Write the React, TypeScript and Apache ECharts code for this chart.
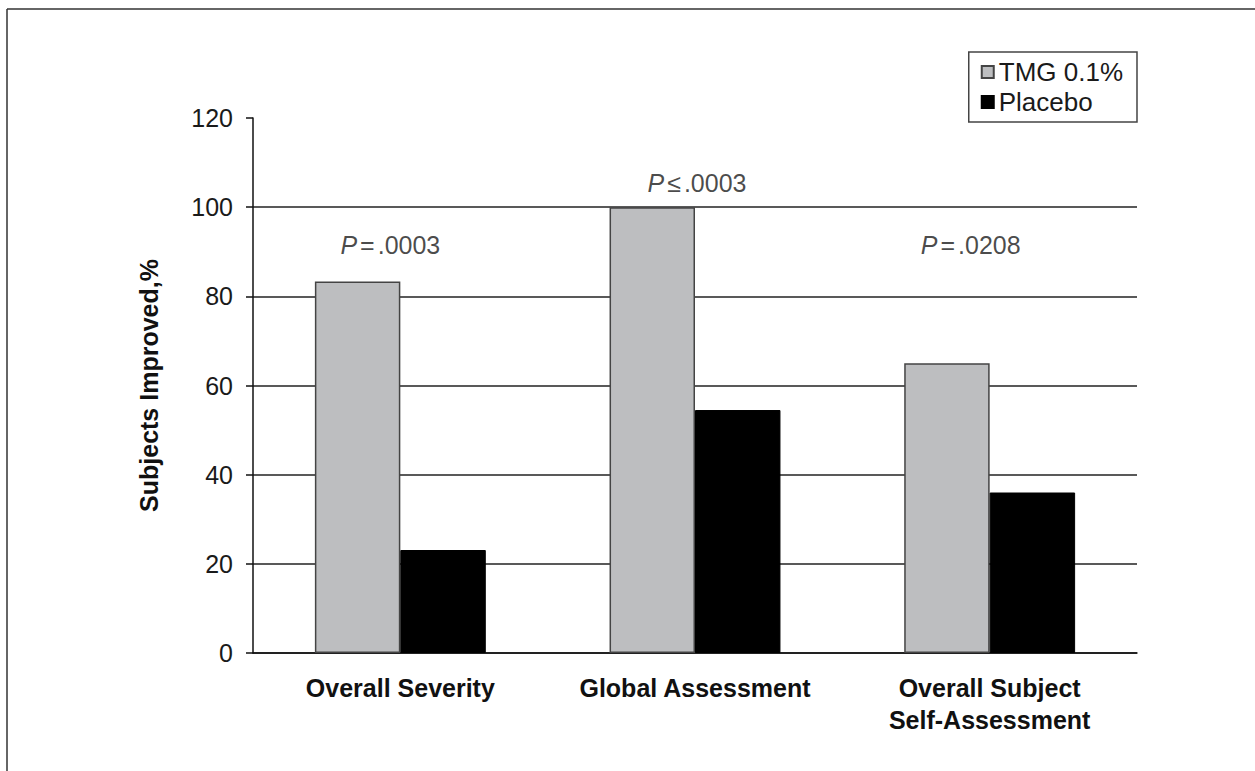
import React, { useEffect, useRef } from "react";
import * as echarts from "echarts";

const categories = ["Overall Severity", "Global Assessment", "Overall Subject\nSelf-Assessment"];
const tmgValues = [83.3, 100, 65];
const placeboValues = [23.1, 54.5, 36];
const seriesNames = ["TMG 0.1%", "Placebo"];
const pOperators = ["=", "≤", "="];
const pValues = [".0003", ".0003", ".0208"];
const pLabelLevels = [91.5, 105.5, 91.5];
const yMin = 0;
const yMax = 120;
const yInterval = 20;

const FONT = "'Liberation Sans', Arial, Helvetica, sans-serif";

export default function App() {
  const ref = useRef<HTMLDivElement>(null);
  useEffect(() => {
    if (!ref.current) return;
    const chart = echarts.init(ref.current, undefined, { renderer: "svg" });
    const labelOffsets = [[-10, 0], [2, 0], [-19, 0]];
    chart.setOption({
      animation: false,
      backgroundColor: "#ffffff",
      textStyle: { fontFamily: FONT },
      grid: { left: 253, right: 118, top: 118, bottom: 118, containLabel: false },
      legend: {
        data: seriesNames,
        orient: "vertical",
        right: 118,
        top: 52,
        padding: [7, 14, 7, 12],
        itemGap: 4,
        itemWidth: 12,
        itemHeight: 12,
        borderColor: "#444",
        borderWidth: 1.5,
        icon: "rect",
        textStyle: { fontSize: 26, color: "#1a1a1a", fontFamily: FONT },
      },
      xAxis: {
        type: "category",
        data: categories,
        axisLine: { show: true, lineStyle: { color: "#111", width: 1.5 } },
        axisTick: { show: false },
        axisLabel: {
          fontSize: 25,
          fontWeight: "bold",
          color: "#111",
          fontFamily: FONT,
          margin: 19,
          lineHeight: 32,
          interval: 0,
        },
      },
      yAxis: {
        type: "value",
        min: yMin,
        max: yMax,
        interval: yInterval,
        name: "Subjects Improved,%",
        nameLocation: "middle",
        nameGap: 92,
        nameTextStyle: { fontSize: 25, fontWeight: "bold", color: "#111", fontFamily: FONT },
        axisLine: { show: true, lineStyle: { color: "#111", width: 1.5 } },
        axisTick: { show: true, length: 7, lineStyle: { color: "#111", width: 1.5 } },
        axisLabel: { fontSize: 25, color: "#1a1a1a", margin: 20, fontFamily: FONT },
        splitLine: {
          show: true,
          lineStyle: {
            color: ["#222", "#222", "#222", "#222", "#222", "#222", "rgba(0,0,0,0)"],
            width: 1.5,
          },
        },
      },
      series: [
        {
          name: seriesNames[0],
          type: "bar",
          data: tmgValues,
          barWidth: "29%",
          barGap: "0%",
          itemStyle: { color: "#bdbec0", borderColor: "#444", borderWidth: 1.5 },
        },
        {
          name: seriesNames[1],
          type: "bar",
          data: placeboValues,
          barWidth: "29%",
          barGap: "0%",
          itemStyle: { color: "#000000", borderColor: "#000", borderWidth: 1 },
        },
        {
          name: "pvalues",
          type: "scatter",
          symbolSize: 0,
          silent: true,
          data: pLabelLevels.map((v, i) => ({
            value: [i, v],
            label: { offset: labelOffsets[i] },
          })),
          label: {
            show: true,
            position: "inside",
            formatter: (p: any) => `{i|P}{o|${pOperators[p.dataIndex]}}{n|${pValues[p.dataIndex]}}`,
            rich: {
              i: { fontSize: 25, fontStyle: "italic", color: "#1a1a1a", fontFamily: FONT },
              o: { fontSize: 25, color: "#1a1a1a", fontFamily: FONT, padding: [0, 3, 0, 3] },
              n: { fontSize: 25, color: "#1a1a1a", fontFamily: FONT },
            },
          },
        },
      ],
      graphic: [
        { type: "line", shape: { x1: 7, y1: 9, x2: 1255, y2: 9 }, style: { stroke: "#333", lineWidth: 1.5 } },
        { type: "line", shape: { x1: 7, y1: 9, x2: 7, y2: 771 }, style: { stroke: "#333", lineWidth: 1.5 } },
      ],
    });
    return () => chart.dispose();
  }, []);
  return (
    <div
      ref={ref}
      style={{ position: "fixed", left: 0, top: 0, width: 1255, height: 771, background: "#fff" }}
    />
  );
}
